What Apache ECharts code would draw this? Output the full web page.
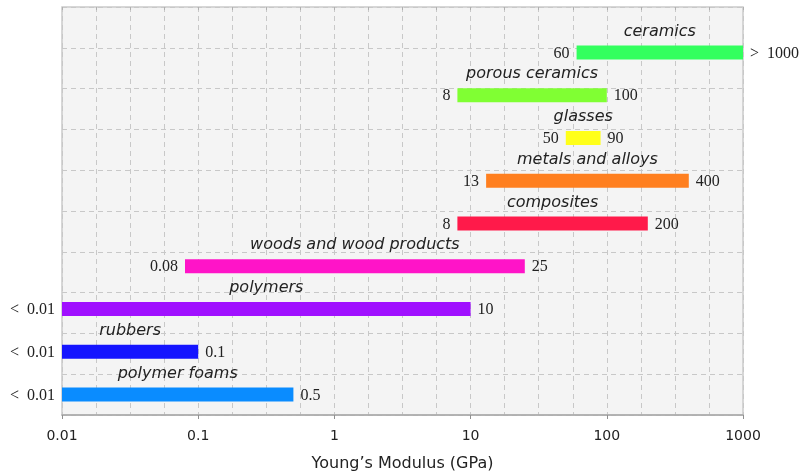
<!DOCTYPE html>
<html>
<head>
<meta charset="utf-8">
<script src="https://cdn.jsdelivr.net/npm/echarts@6/dist/echarts.min.js"></script>
<style>html,body{margin:0;padding:0;background:#fff}#c{width:803px;height:472px}</style>
</head>
<body>
<div id="c"></div>
<script>
// ---- data ----
const categories = ['ceramics', 'porous ceramics', 'glasses', 'metals and alloys', 'composites',
  'woods and wood products', 'polymers', 'rubbers', 'polymer foams'];
const lowValues  = [60, 8, 50, 13, 8, 0.08, 0.01, 0.01, 0.01];
const highValues = [1000, 100, 90, 400, 200, 25, 10, 0.1, 0.5];
const lowLabels  = ['60', '8', '50', '13', '8', '0.08', '<\u20020.01', '<\u20020.01', '<\u20020.01'];
const highLabels = ['>\u20021000', '100', '90', '400', '200', '25', '10', '0.1', '0.5'];
const barColors  = ['#33ff5e', '#80ff33', '#ffff1a', '#ff7f1f', '#ff1a4a', '#ff14c8', '#a010ff', '#1414ff', '#0a8cff'];
const xTickLabels = ['0.01', '0.1', '1', '10', '100', '1000'];

const serif = '"Liberation Serif", "DejaVu Serif", serif';
const sans = '"DejaVu Sans", sans-serif';

const chart = echarts.init(document.getElementById('c'));
const data = categories.map((c, i) => [lowValues[i], highValues[i], c]);

chart.setOption({
  animation: false,
  grid: [
    { left: 62, right: 60, top: 7, bottom: 57, containLabel: false, outerBoundsMode: 'none',
      show: true, backgroundColor: '#f4f4f4', borderColor: '#cacaca', borderWidth: 1.5 },
    { left: 62, right: 60, top: 31, bottom: 56, containLabel: false, outerBoundsMode: 'none' }
  ],
  xAxis: [
    { type: 'log', gridIndex: 0, min: 0.01, max: 1000, logBase: 10,
      axisLine: { show: true, lineStyle: { color: '#a8a8a8', width: 1.5 } },
      axisTick: { show: true, length: 4, lineStyle: { color: '#909090' } },
      splitLine: { show: false },
      axisLabel: { color: '#222', fontFamily: sans, fontSize: 14, margin: 14,
        formatter: (v, i) => xTickLabels[i] },
      name: 'Young\u2019s Modulus (GPa)', nameLocation: 'middle', nameGap: 41,
      nameTextStyle: { color: '#222', fontFamily: sans, fontSize: 16 } },
    { type: 'value', gridIndex: 0, min: -2, max: 3, interval: 0.25, show: true,
      axisLine: { show: false }, axisLabel: { show: false },
      axisTick: { show: true, inside: true, length: 3, lineStyle: { color: '#b0b0b0' } },
      splitLine: { show: true, lineStyle: { color: '#c8c8c8', type: [5, 4], width: 1 } } },
    { type: 'log', gridIndex: 1, min: 0.01, max: 1000, logBase: 10, show: false }
  ],
  yAxis: [
    { type: 'value', gridIndex: 0, min: 0, max: 10, interval: 1,
      axisLine: { show: false }, axisTick: { show: false }, axisLabel: { show: false },
      splitLine: { show: true, lineStyle: { color: '#c8c8c8', type: [5, 4], width: 1 } } },
    { type: 'category', gridIndex: 1, data: categories, inverse: true, show: false }
  ],
  series: [{
    type: 'custom',
    xAxisIndex: 2, yAxisIndex: 1,
    encode: { x: [0, 1], y: 2 },
    data: data,
    clip: false,
    renderItem: function (params, api) {
      const i = params.dataIndex;
      const cat = api.value(2);
      const p0 = api.coord([api.value(0), cat]);
      const p1 = api.coord([api.value(1), cat]);
      const h = 14;
      const cy = p0[1];
      return {
        type: 'group',
        children: [
          { type: 'rect', shape: { x: p0[0], y: cy - h / 2, width: p1[0] - p0[0], height: h },
            style: { fill: barColors[i] } },
          { type: 'text', x: (p0[0] + p1[0]) / 2, y: cy - 21,
            style: { text: categories[i], align: 'center', verticalAlign: 'middle',
              font: 'italic 16px ' + sans, fill: '#222' } },
          { type: 'text', x: p0[0] - 7, y: cy + 1,
            style: { text: lowLabels[i], align: 'right', verticalAlign: 'middle',
              font: '16px ' + serif, fill: '#222' } },
          { type: 'text', x: p1[0] + 7, y: cy + 1,
            style: { text: highLabels[i], align: 'left', verticalAlign: 'middle',
              font: '16px ' + serif, fill: '#222' } }
        ]
      };
    }
  }]
});
</script>
</body>
</html>
